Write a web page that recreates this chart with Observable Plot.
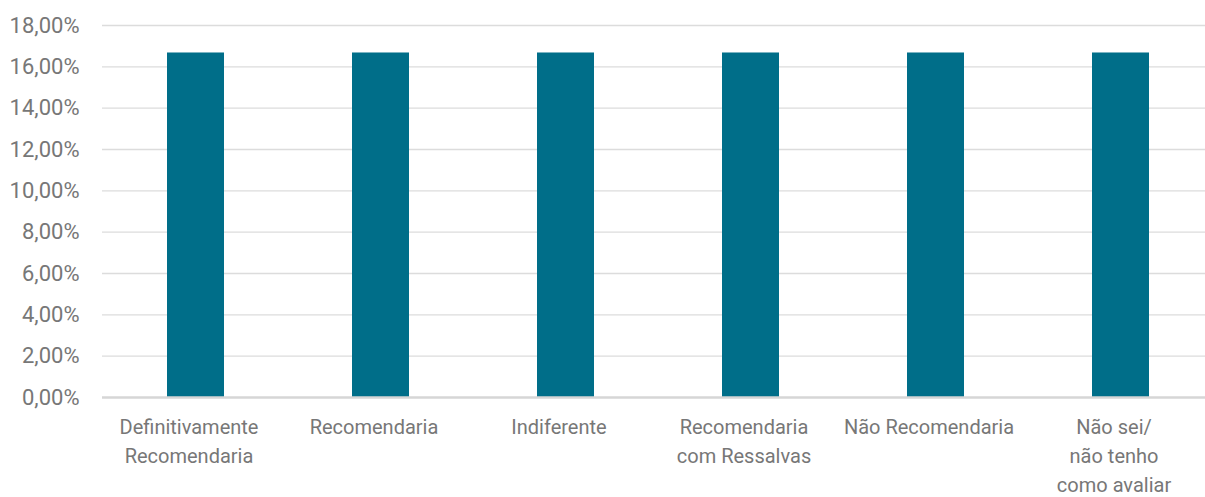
<!DOCTYPE html>
<html>
<head>
<meta charset="utf-8">
<script src="https://cdn.jsdelivr.net/npm/d3@7"></script>
<script src="https://cdn.jsdelivr.net/npm/@observablehq/plot@0.6"></script>
<style>
  html, body { margin: 0; padding: 0; background: #fff; overflow: hidden; }
  #chart svg { display: block; }
</style>
</head>
<body>
<div id="chart"></div>
<script>
const categories = [
  "Definitivamente\nRecomendaria",
  "Recomendaria",
  "Indiferente",
  "Recomendaria\ncom Ressalvas",
  "Não Recomendaria",
  "Não sei/\nnão tenho\ncomo avaliar"
];
const values = [0.1667, 0.1667, 0.1667, 0.1667, 0.1667, 0.1667];
const yTicks = [0, 0.02, 0.04, 0.06, 0.08, 0.10, 0.12, 0.14, 0.16, 0.18];

const data = categories.map((c, i) => ({category: c, value: values[i]}));
const fmt = v => (v * 100).toFixed(2).replace(".", ",") + "%";

const chart = Plot.plot({
  width: 1205,
  height: 497,
  marginLeft: 102,
  marginRight: 0,
  marginTop: 25,
  marginBottom: 100,
  style: {fontFamily: "Roboto, sans-serif", background: "#fff", overflow: "visible"},
  x: {domain: categories, range: [102, 1215], paddingInner: 0.69, paddingOuter: 0.345},
  y: {domain: [0, 0.18]},
  marks: [
    Plot.ruleY(yTicks.slice(1), {stroke: "#dcdcdc", strokeWidth: 1.3}),
    Plot.barY(data, {x: "category", y: "value", fill: "#006e89"}),
    Plot.ruleY([0], {stroke: "#d6d6d6", strokeWidth: 2.5}),
    Plot.axisY({ticks: yTicks, tickFormat: fmt, tickSize: 0, tickPadding: 23, label: null,
      fontSize: 22, fill: "#777", textAnchor: "end"}),
    Plot.axisX({tickSize: 0, tickPadding: 16, dx: -7, label: null, fontSize: 20, fill: "#777", lineHeight: 1.45})
  ]
});
document.getElementById("chart").appendChild(chart);
</script>
</body>
</html>
